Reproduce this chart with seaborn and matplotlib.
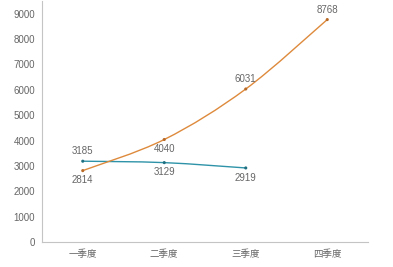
import matplotlib
matplotlib.use("Agg")
import matplotlib.pyplot as plt
import seaborn as sns
import pandas as pd
from matplotlib.path import Path
from matplotlib.patches import PathPatch

categories = ["一季度", "二季度", "三季度", "四季度"]
series_a = [3185, 3129, 2919, None]
series_b = [2814, 4040, 6031, 8768]
a_label_pos = ["above", "below", "below", None]
b_label_pos = ["below", "below", "above", "above"]
yticks = [0, 1000, 2000, 3000, 4000, 5000, 6000, 7000, 8000, 9000]

sns.set_theme(style="white")
plt.rcParams['font.family'] = ['Noto Sans CJK SC', 'DejaVu Sans']

fig = plt.figure(figsize=(3.93, 2.67), dpi=100)
ax = fig.add_axes([42/393, 25/267, (368-42)/393, (267-25-1)/267])

blue = "#2e93a8"
orange = "#de8a3c"

rows = []
for i, c in enumerate(categories):
    if series_a[i] is not None:
        rows.append(dict(x=i, y=series_a[i], s="A"))
    rows.append(dict(x=i, y=series_b[i], s="B"))
df = pd.DataFrame(rows)

# markers via seaborn
sns.scatterplot(data=df, x="x", y="y", hue="s", palette={"A": "#1f6f80", "B": "#b86a28"},
                s=5, linewidth=0, legend=False, ax=ax, zorder=4)


def smooth_path(xs, ys, t=0.5):
    pts = list(zip(xs, ys))
    verts = [pts[0]]
    codes = [Path.MOVETO]
    n = len(pts)
    for i in range(n - 1):
        p0 = pts[i - 1] if i > 0 else pts[i]
        p1 = pts[i]
        p2 = pts[i + 1]
        p3 = pts[i + 2] if i + 2 < n else pts[i + 1]
        c1 = (p1[0] + (p2[0] - p0[0]) * t / 3, p1[1] + (p2[1] - p0[1]) * t / 3)
        c2 = (p2[0] - (p3[0] - p1[0]) * t / 3, p2[1] - (p3[1] - p1[1]) * t / 3)
        verts += [c1, c2, p2]
        codes += [Path.CURVE4] * 3
    return Path(verts, codes)


for vals, col in ((series_a, blue), (series_b, orange)):
    xs = [i for i, v in enumerate(vals) if v is not None]
    ys = [v for v in vals if v is not None]
    ax.add_patch(PathPatch(smooth_path(xs, ys), facecolor="none", edgecolor=col,
                           linewidth=1.0, zorder=3))

lab_color = "#666666"
for vals, pos in ((series_a, a_label_pos), (series_b, b_label_pos)):
    for i, v in enumerate(vals):
        if v is None:
            continue
        off = 3.5 if pos[i] == "above" else -3.5
        ax.annotate(str(v), (i, v), xytext=(0, off), textcoords="offset points",
                    ha="center", va="bottom" if off > 0 else "top",
                    fontsize=7, color=lab_color, family=['Liberation Sans', 'DejaVu Sans'])

ax.set_xlim(-0.5, 3.5)
ax.set_ylim(0, 9500)
ax.set_xticks(range(len(categories)))
ax.set_xticklabels(categories, fontsize=6.8, color=lab_color)
ax.set_yticks(yticks)
ax.set_yticklabels([str(t) for t in yticks], fontsize=7, color=lab_color,
                   family=['Liberation Sans', 'DejaVu Sans'])
ax.set_xlabel("")
ax.set_ylabel("")
ax.tick_params(axis="both", length=0, pad=5)
for s in ("top", "right"):
    ax.spines[s].set_visible(False)
for s in ("left", "bottom"):
    ax.spines[s].set_color("#c4c4c4")
    ax.spines[s].set_linewidth(0.8)

fig.savefig("out.png", dpi=100)
